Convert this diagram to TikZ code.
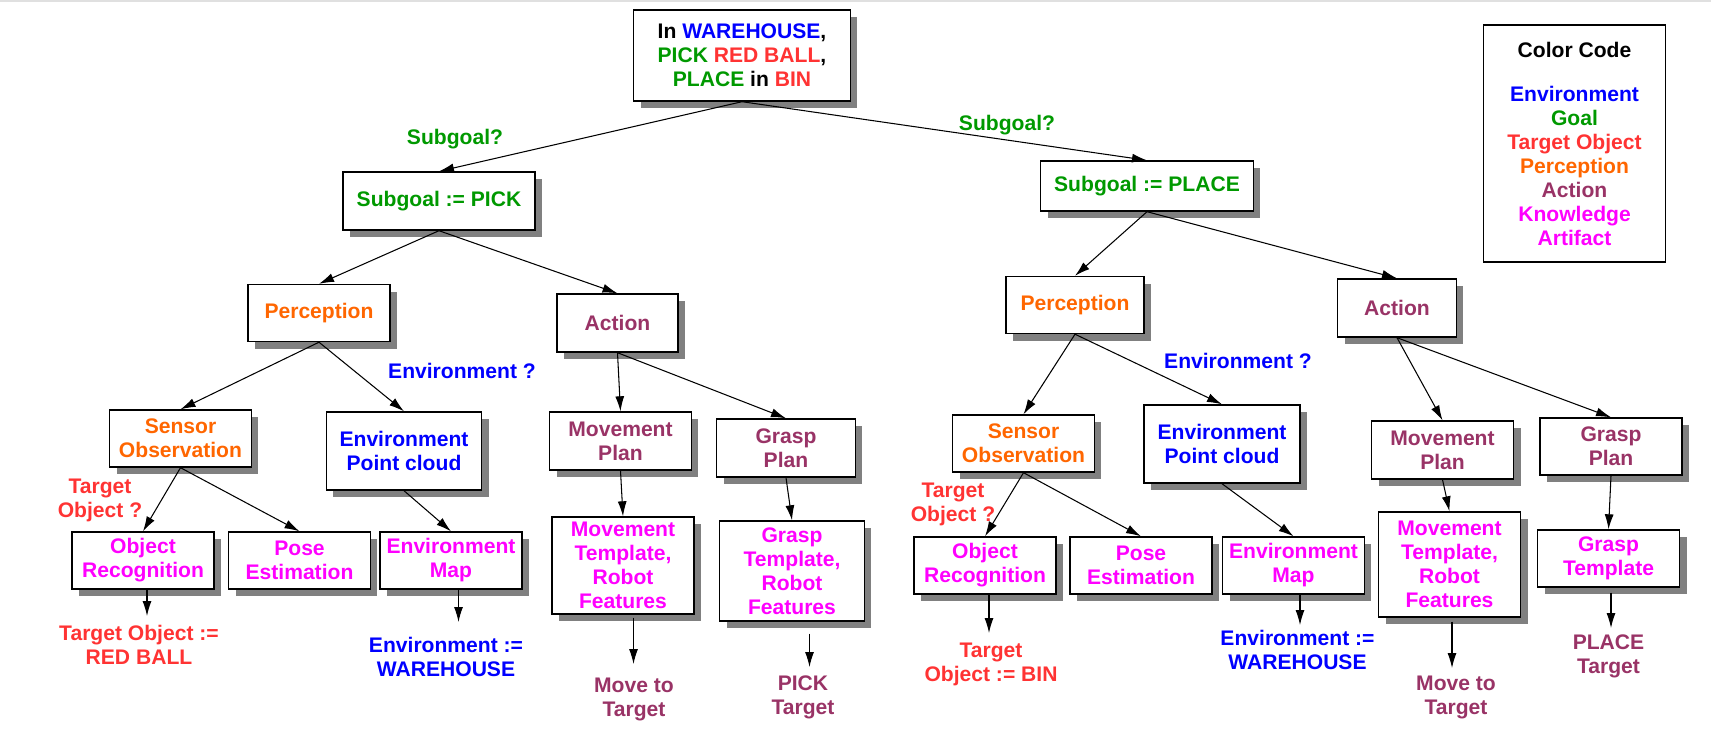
\documentclass[tikz,border=0pt]{standalone}
\usepackage{fontspec}
\setmainfont{Liberation Sans}
\usepackage{xcolor}
\usepackage{tikz}
\usetikzlibrary{arrows.meta,shadows}
\definecolor{envblue}{RGB}{0,0,255}
\definecolor{goalgreen}{RGB}{0,153,0}
\definecolor{targetred}{RGB}{255,51,51}
\definecolor{percorange}{RGB}{255,102,0}
\definecolor{actpurple}{RGB}{153,51,102}
\definecolor{knowmagenta}{RGB}{255,0,255}

\begin{document}
\begin{tikzpicture}[x=0.02cm,y=-0.02cm,
    font=\fontsize{12pt}{13.66pt}\selectfont\bfseries,
    box/.style={draw,line width=0.8pt,fill=white,align=center,inner sep=1pt,
      minimum width=2.84cm,minimum height=1.14cm,
      general shadow={fill=black!50,shadow xshift=0.14cm,shadow yshift=-0.14cm}},
    arr/.style={-{Latex[length=3mm,width=1.8mm]},line width=0.6pt},
    lbl/.style={align=center,inner sep=0pt}]
    \useasboundingbox (0,0) rectangle (1711,745);
    \fill[black!12] (0,0) rectangle (1711,2);

    \node[box,minimum width=4.33cm,minimum height=1.82cm] (top) at (742,55.5)
      {In \textcolor{envblue}{WAREHOUSE},\\\textcolor{goalgreen}{PICK} \textcolor{targetred}{RED BALL},\\\textcolor{goalgreen}{PLACE} in \textcolor{targetred}{BIN}};
    \node[box,minimum width=3.84cm,minimum height=1.16cm,text=goalgreen] (pick) at (439,201) {Subgoal := PICK};
    \node[box,minimum width=4.26cm,minimum height=1cm,text=goalgreen] (place) at (1147,186) {Subgoal := PLACE};

    \node[box,text=percorange] (percL) at (319,313) {Perception};
    \node[box,minimum width=2.42cm,minimum height=1.16cm,text=actpurple] (actL) at (617.5,323) {Action};
    \node[box,minimum width=2.76cm,text=percorange] (percR) at (1075,305) {Perception};
    \node[box,minimum width=2.37cm,minimum height=1.16cm,text=actpurple] (actR) at (1397,308) {Action};

    \node[box,text=percorange] (sensL) at (180.5,438.5) {Sensor\\Observation};
    \node[box,minimum width=3.11cm,minimum height=1.56cm,text=envblue] (envpcL) at (404,451) {Environment\\Point cloud};
    \node[box,minimum height=1.16cm,text=actpurple] (movL) at (620.5,441) {Movement\\Plan};
    \node[box,minimum width=2.77cm,minimum height=1.16cm,text=actpurple] (graspL) at (786,448) {Grasp\\Plan};
    \node[box,text=percorange] (sensR) at (1023.5,443.5) {Sensor\\Observation};
    \node[box,minimum width=3.12cm,minimum height=1.56cm,text=envblue] (envpcR) at (1222,444) {Environment\\Point cloud};
    \node[box,minimum height=1.16cm,text=actpurple] (movR) at (1442.5,450) {Movement\\Plan};
    \node[box,text=actpurple] (graspR) at (1611,446.5) {Grasp\\Plan};

    \node[box,text=knowmagenta] (objrecL) at (143,560.5) {Object\\Recognition};
    \node[box,text=knowmagenta] (poseL) at (299.5,560.5) {Pose\\Estimation};
    \node[box,text=knowmagenta] (envmapL) at (451,560.5) {Environment\\Map};
    \node[box,minimum height=1.94cm,text=knowmagenta] (movtplL) at (623,565.5) {Movement\\Template,\\Robot\\Features};
    \node[box,minimum width=2.9cm,minimum height=2cm,text=knowmagenta] (grasptplL) at (792,571) {Grasp\\Template,\\Robot\\Features};
    \node[box,text=knowmagenta] (objrecR) at (985,565.5) {Object\\Recognition};
    \node[box,text=knowmagenta] (poseR) at (1141,565.5) {Pose\\Estimation};
    \node[box,text=knowmagenta] (envmapR) at (1293.5,565.5) {Environment\\Map};
    \node[box,minimum height=2.1cm,text=knowmagenta] (movtplR) at (1449.5,564.5) {Movement\\Template,\\Robot\\Features};
    \node[box,text=knowmagenta] (grasptplR) at (1608.5,558.5) {Grasp\\Template};

    \node[draw,line width=0.8pt,minimum width=3.63cm,minimum height=4.74cm,align=center] (legend) at (1574.5,143.5)
      {Color Code\\[0.4cm]\textcolor{envblue}{Environment}\\\textcolor{goalgreen}{Goal}\\\textcolor{targetred}{Target Object}\\\textcolor{percorange}{Perception}\\\textcolor{actpurple}{Action}\\\textcolor{knowmagenta}{Knowledge}\\\textcolor{knowmagenta}{Artifact}};

    \node[lbl,text=goalgreen] (askL) at (455,139) {Subgoal?};
    \node[lbl,text=goalgreen] (askR) at (1007,125) {Subgoal?};
    \node[lbl,text=envblue] (askenvL) at (462,371) {Environment ?};
    \node[lbl,text=envblue] (askenvR) at (1238,361) {Environment ?};
    \node[lbl,text=targetred] (askobjL) at (100,500) {Target\\Object ?};
    \node[lbl,text=targetred] (askobjR) at (953,504) {Target\\Object ?};

    \node[lbl,text=targetred] (resobjL) at (139,645) {Target Object :=\\RED BALL};
    \node[lbl,text=envblue] (resenvL) at (446,656.5) {Environment :=\\WAREHOUSE};
    \node[lbl,text=actpurple] (resmovL) at (634,699.5) {Move to\\Target};
    \node[lbl,text=actpurple] (respick) at (803,697.5) {PICK\\Target};
    \node[lbl,text=targetred] (resobjR) at (991,664.5) {Target\\Object := BIN};
    \node[lbl,text=envblue] (resenvR) at (1297.5,650) {Environment :=\\WAREHOUSE};
    \node[lbl,text=actpurple] (resmovR) at (1456,697.5) {Move to\\Target};
    \node[lbl,text=actpurple] (resplace) at (1608.5,656.5) {PLACE\\Target};

    \coordinate (tipobjL) at (147,616);
    \coordinate (tipenvL) at (458.5,622);
    \coordinate (tipmovL) at (633.5,664);
    \coordinate (tipgraspL) at (809.5,667);
    \coordinate (tipobjR) at (989,633);
    \coordinate (tipenvR) at (1300,625);
    \coordinate (tipmovR) at (1452,668);
    \coordinate (tipgraspR) at (1611,628);

    \draw[arr] (top.south) -- (pick.north);
    \draw[arr] (top.south) -- (place.north);
    \draw[arr] (pick.south) -- (percL.north);
    \draw[arr] (pick.south) -- (actL.north);
    \draw[arr] (place.south) -- (percR.north);
    \draw[arr] (place.south) -- (actR.north);

    \draw[arr] (percL.south) -- (sensL.north);
    \draw[arr] (percL.south) -- (envpcL.north);
    \draw[arr] (actL.south) -- (movL.north);
    \draw[arr] (actL.south) -- (graspL.north);
    \draw[arr] (percR.south) -- (sensR.north);
    \draw[arr] (percR.south) -- (envpcR.north);
    \draw[arr] (actR.south) -- (movR.north);
    \draw[arr] (actR.south) -- (graspR.north);

    \draw[arr] (sensL.south) -- (objrecL.north);
    \draw[arr] (sensL.south) -- (poseL.north);
    \draw[arr] (envpcL.south) -- (envmapL.north);
    \draw[arr] (movL.south) -- (movtplL.north);
    \draw[arr] (graspL.south) -- (grasptplL.north);
    \draw[arr] (sensR.south) -- (objrecR.north);
    \draw[arr] (sensR.south) -- (poseR.north);
    \draw[arr] (envpcR.south) -- (envmapR.north);
    \draw[arr] (movR.south) -- (movtplR.north);
    \draw[arr] (graspR.south) -- (grasptplR.north);

    \draw[arr] (objrecL.south -| tipobjL) -- (tipobjL);
    \draw[arr] (envmapL.south -| tipenvL) -- (tipenvL);
    \draw[arr] ([yshift=-0.06cm]movtplL.south -| tipmovL) -- (tipmovL);
    \draw[arr] ([yshift=-0.24cm]grasptplL.south -| tipgraspL) -- (tipgraspL);
    \draw[arr] (objrecR.south -| tipobjR) -- (tipobjR);
    \draw[arr] (envmapR.south -| tipenvR) -- (tipenvR);
    \draw[arr] ([yshift=-0.08cm]movtplR.south -| tipmovR) -- (tipmovR);
    \draw[arr] ([yshift=-0.1cm]grasptplR.south -| tipgraspR) -- (tipgraspR);
  \end{tikzpicture}
\end{document}
